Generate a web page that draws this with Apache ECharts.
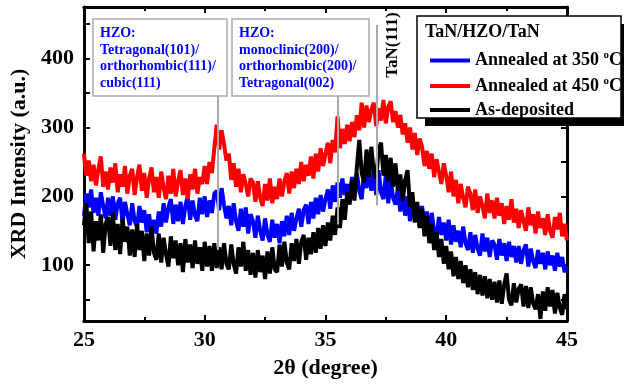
<!DOCTYPE html>
<html>
<head>
<meta charset="utf-8">
<script src="https://cdn.jsdelivr.net/npm/echarts@6/dist/echarts.min.js"></script>
<style>
  html, body { margin: 0; padding: 0; background: #fff; }
  #chart { width: 624px; height: 384px; }
</style>
</head>
<body>
<div id="chart"></div>
<script>
// 2theta grid, 25..45 step 0.1
const twoTheta = Array.from({ length: 201 }, (_, i) => +(25 + i * 0.1).toFixed(1));

const annealed350 = [
  172, 204, 184, 210, 176, 198, 172, 206, 186, 168,
  198, 172, 200, 166, 190, 198, 162, 192, 174, 158,
  190, 164, 156, 186, 162, 180, 148, 174, 142, 166,
  146, 178, 156, 190, 162, 184, 196, 160, 188, 164,
  192, 160, 186, 200, 166, 194, 172, 164, 198, 174,
  200, 170, 194, 176, 204, 208, 180, 212, 188, 168,
  186, 158, 190, 164, 150, 182, 156, 184, 146, 174,
  164, 140, 172, 150, 136, 168, 144, 134, 166, 140,
  160, 132, 164, 142, 172, 144, 176, 150, 168, 182,
  156, 180, 188, 160, 192, 168, 198, 174, 202, 178,
  196, 210, 182, 216, 192, 220, 198, 226, 202, 218,
  196, 228, 206, 234, 208, 196, 236, 212, 240, 208,
  234, 202, 238, 206, 196, 232, 190, 224, 198, 188,
  212, 178, 206, 172, 200, 164, 194, 166, 188, 156,
  186, 154, 178, 144, 176, 150, 140, 170, 144, 162,
  136, 166, 130, 158, 134, 150, 126, 156, 132, 122,
  148, 118, 144, 124, 114, 146, 120, 140, 112, 136,
  130, 108, 138, 114, 132, 106, 134, 112, 128, 104,
  128, 102, 122, 130, 98, 124, 106, 96, 122, 102,
  118, 94, 120, 100, 114, 92, 118, 98, 112, 90,
  98
];

const annealed450 = [
  262, 230, 252, 222, 246, 216, 240, 258, 214, 236,
  210, 242, 220, 248, 206, 232, 214, 244, 204, 230,
  240, 202, 228, 246, 208, 234, 198, 226, 242, 206,
  228, 198, 236, 212, 196, 230, 204, 240, 200, 222,
  238, 202, 226, 196, 232, 210, 240, 204, 228, 218,
  244, 218, 250, 234, 270, 304, 268, 296, 276, 252,
  262, 224, 248, 214, 240, 206, 232, 218, 200, 226,
  220, 192, 222, 198, 186, 218, 194, 226, 190, 214,
  196, 226, 200, 222, 234, 204, 236, 212, 240, 218,
  250, 222, 246, 230, 258, 226, 262, 236, 270, 244,
  262, 278, 248, 282, 264, 316, 270, 298, 276, 304,
  280, 308, 286, 318, 296, 336, 300, 332, 308, 326,
  336, 302, 328, 310, 340, 306, 330, 338, 308, 324,
  300, 318, 290, 306, 278, 300, 268, 292, 260, 284,
  272, 244, 266, 240, 262, 228, 254, 236, 218, 248,
  230, 206, 236, 200, 224, 190, 218, 198, 184, 214,
  204, 180, 210, 176, 200, 186, 168, 204, 176, 194,
  168, 198, 172, 190, 160, 186, 166, 196, 162, 182,
  154, 180, 164, 150, 184, 158, 174, 146, 178, 154,
  168, 144, 174, 150, 140, 170, 152, 176, 142, 160,
  136
];

const asDeposited = [
  158, 190, 132, 178, 120, 164, 136, 174, 118, 160,
  170, 128, 176, 122, 160, 116, 168, 134, 156, 114,
  152, 112, 160, 122, 150, 106, 146, 114, 156, 118,
  108, 146, 104, 140, 116, 98, 142, 110, 136, 100,
  132, 90, 138, 104, 130, 96, 136, 102, 126, 92,
  134, 98, 128, 92, 132, 96, 126, 94, 132, 102,
  94, 130, 102, 88, 126, 98, 134, 92, 122, 86,
  118, 82, 122, 90, 114, 80, 120, 88, 126, 94,
  90, 130, 98, 134, 104, 94, 132, 106, 138, 102,
  134, 144, 108, 140, 116, 148, 118, 154, 124, 158,
  128, 162, 136, 172, 144, 184, 154, 196, 166, 206,
  188, 224, 194, 242, 282, 234, 220, 268, 228, 272,
  234, 226, 268, 278, 230, 260, 222, 256, 214, 248,
  208, 232, 194, 224, 238, 184, 206, 162, 192, 154,
  182, 142, 172, 132, 160, 122, 148, 112, 138, 102,
  128, 94, 120, 84, 112, 80, 106, 74, 100, 68,
  94, 64, 90, 58, 86, 56, 84, 52, 80, 50,
  76, 46, 78, 44, 72, 88, 50, 42, 74, 46,
  66, 72, 40, 70, 38, 68, 44, 36, 58, 22,
  62, 34, 68, 40, 64, 30, 60, 38, 28, 58,
  36
];

const seriesNames = ['Annealed at 350 °C', 'Annealed at 450 °C', 'As-deposited'];
const seriesColors = ['#0000ff', '#ff0000', '#000000'];
const seriesValues = [annealed350, annealed450, asDeposited];

const yLabelValues = [100, 200, 300, 400];
const yTickValues = [50, 100, 150, 200, 250, 300, 350, 400, 450];

// reference lines: [2theta, from, to]
const peakLines = [[30.56, 347, 122], [35.52, 347, 159], [37.12, 449, 187]];

const serif = '"Liberation Serif", "Times New Roman", serif';
const chart = echarts.init(document.getElementById('chart'));

const xBase = {
  type: 'value', min: 25, max: 45, interval: 5,
  splitLine: { show: false },
  axisLine: { onZero: false, lineStyle: { color: '#000', width: 3 } },
  axisTick: { inside: true, length: 6, lineStyle: { width: 2, color: '#000' } },
  minorTick: { show: true, splitNumber: 2, length: 4, lineStyle: { width: 2, color: '#000' } }
};
const yBase = {
  type: 'value', min: 19, max: 475,
  splitLine: { show: false },
  axisLine: { onZero: false, lineStyle: { color: '#000', width: 3 } },
  axisTick: { inside: true, length: 6, customValues: yTickValues, lineStyle: { width: 2, color: '#000' } }
};

const series = seriesValues.map((vals, k) => ({
  name: seriesNames[k],
  type: 'line',
  data: vals.map((v, i) => [twoTheta[i], v]),
  showSymbol: false,
  lineStyle: { color: seriesColors[k], width: 4 },
  itemStyle: { color: seriesColors[k] },
  z: 2
}));

series.push({
  type: 'line',
  data: [],
  z: 3,
  silent: true,
  markLine: {
    silent: true,
    symbol: 'none',
    label: { show: false },
    lineStyle: { color: '#aaaaaa', width: 2, type: 'solid' },
    data: peakLines.map(p => [{ coord: [p[0], p[1]] }, { coord: [p[0], p[2]] }])
  }
});

function noteBox(x, w, lines) {
  return [
    { type: 'rect', z: 6, shape: { x: x, y: 19, width: w, height: 77 },
      style: { fill: '#fff', stroke: '#aaaaaa', lineWidth: 1.5 } },
    { type: 'text', z: 7, x: x + 7, y: 25,
      style: { text: lines.join('\n'), fill: '#0000ff', font: 'bold 14px ' + serif, lineHeight: 16.7 } }
  ];
}

chart.setOption({
  animation: false,
  grid: { left: 82, right: 57, top: 7, bottom: 60 },
  xAxis: [
    Object.assign({}, xBase, {
      position: 'bottom',
      name: '2θ (degree)', nameLocation: 'middle', nameGap: 36,
      nameTextStyle: { fontFamily: serif, fontWeight: 'bold', fontSize: 22, color: '#000' },
      axisLabel: { fontFamily: serif, fontWeight: 'bold', fontSize: 22, color: '#000', margin: 8 }
    }),
    Object.assign({}, xBase, { position: 'top', axisLabel: { show: false } })
  ],
  yAxis: [
    Object.assign({}, yBase, {
      position: 'left',
      name: 'XRD Intensity (a.u.)', nameLocation: 'middle', nameGap: 52,
      nameTextStyle: { fontFamily: serif, fontWeight: 'bold', fontSize: 22, color: '#000' },
      axisLabel: { fontFamily: serif, fontWeight: 'bold', fontSize: 22, color: '#000', margin: 10,
        customValues: yLabelValues }
    }),
    Object.assign({}, yBase, { position: 'right', axisLabel: { show: false } })
  ],
  legend: {
    data: seriesNames,
    orient: 'vertical',
    left: 425, top: 45,
    itemWidth: 40, itemHeight: 4, itemGap: 6,
    icon: 'rect',
    z: 8,
    formatter: name => name.replace('°C', '{s|o}C'),
    textStyle: {
      fontFamily: serif, fontWeight: 'bold', fontSize: 18, color: '#000',
      rich: { s: { fontFamily: serif, fontWeight: 'bold', fontSize: 11, color: '#000', padding: [0, 0, 10, 0] } }
    }
  },
  graphic: [
    { type: 'rect', z: 6, shape: { x: 425, y: 24, width: 204, height: 102 }, style: { fill: '#000' } },
    { type: 'rect', z: 6, shape: { x: 417, y: 16, width: 204, height: 102 },
      style: { fill: '#fff', stroke: '#000', lineWidth: 1.5 } },
    { type: 'text', z: 7, x: 425, y: 23,
      style: { text: 'TaN/HZO/TaN', fill: '#000', font: 'bold 18px ' + serif } },
    ...noteBox(93, 134, ['HZO:', 'Tetragonal(101)/', 'orthorhombic(111)/', 'cubic(111)']),
    ...noteBox(232, 137, ['HZO:', 'monoclinic(200)/', 'orthorhombic(200)/', 'Tetragonal(002)']),
    { type: 'text', z: 7, x: 393, y: 45, rotation: Math.PI / 2,
      style: { text: 'TaN(111)', fill: '#000', font: 'bold 17px ' + serif, align: 'center', verticalAlign: 'middle' } }
  ],
  series: series
});
</script>
</body>
</html>
